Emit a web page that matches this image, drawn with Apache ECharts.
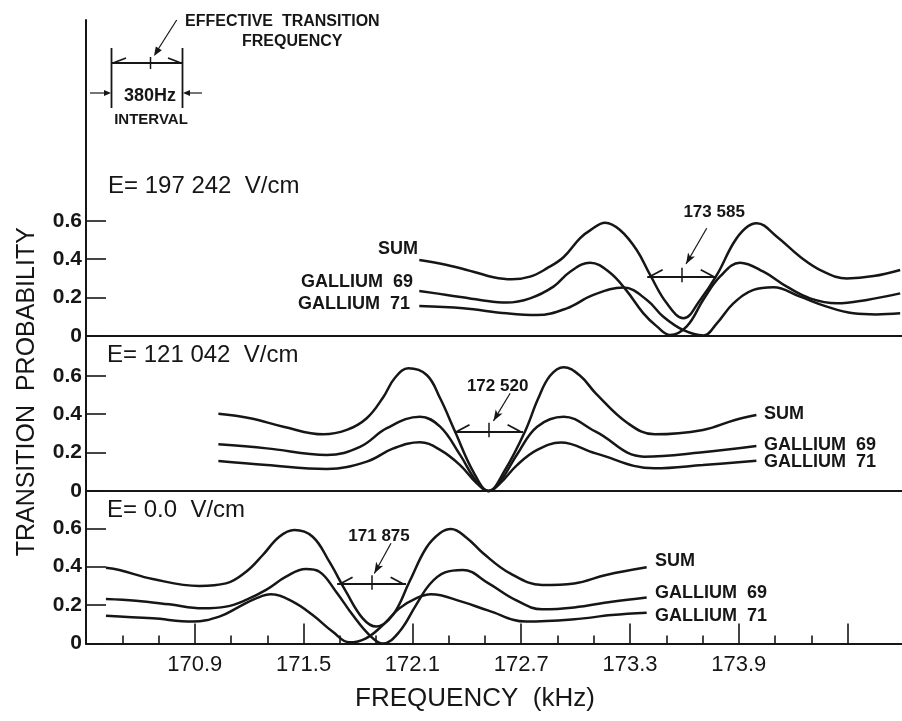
<!DOCTYPE html>
<html><head><meta charset="utf-8">
<script src="https://cdn.jsdelivr.net/npm/echarts@6/dist/echarts.min.js"></script>
<style>html,body{margin:0;padding:0;background:#fff}#c{width:902px;height:721px}</style>
</head><body><div id="c"></div>
<script>
// ---------------- data ----------------
const panelFields = ['E= 197 242  V/cm', 'E= 121 042  V/cm', 'E= 0.0  V/cm'];
const effectiveFreq = [173.585, 172.520, 171.875];   // kHz
const intervalKHz = 0.380;                           // 380 Hz
const curveNames = ['SUM', 'GALLIUM  69', 'GALLIUM  71'];
const xTickLabels = [170.9, 171.5, 172.1, 172.7, 173.3, 173.9];
const xMajorTicks = [170.9, 171.5, 172.1, 172.7, 173.3, 173.9, 174.5];
const xMinorTicks = [170.5, 170.7, 171.1, 171.3, 171.7, 171.9, 172.3, 172.5, 172.9, 173.1, 173.5, 173.7, 174.1, 174.3];

// E = 197 242 V/cm
const topSumF = [172.138,172.290,172.436,172.547,172.648,172.749,172.841,172.933,173.025,173.080,173.163,173.245,173.337,173.411,173.503,173.595,173.687,173.779,173.870,173.935,173.999,174.110,174.238,174.367,174.496,174.643,174.790];
const topSumP = [0.396,0.370,0.335,0.306,0.295,0.309,0.352,0.410,0.510,0.550,0.590,0.552,0.448,0.318,0.170,0.092,0.188,0.318,0.483,0.560,0.587,0.517,0.413,0.335,0.300,0.312,0.344];
const topGa69F = [172.138,172.290,172.473,172.620,172.749,172.878,172.970,173.080,173.190,173.282,173.374,173.448,173.521,173.613,173.705,173.797,173.907,174.036,174.165,174.293,174.441,174.606,174.790];
const topGa69P = [0.234,0.214,0.188,0.174,0.196,0.257,0.335,0.382,0.330,0.235,0.118,0.050,0.005,0.050,0.190,0.310,0.382,0.335,0.257,0.196,0.170,0.188,0.222];
const topGa71F = [172.138,172.381,172.620,172.786,172.951,173.098,173.264,173.393,173.484,173.595,173.705,173.779,173.870,173.981,174.091,174.238,174.385,174.532,174.657,174.790];
const topGa71P = [0.156,0.144,0.118,0.109,0.144,0.214,0.252,0.188,0.100,0.030,0.003,0.066,0.170,0.240,0.254,0.205,0.153,0.118,0.112,0.118];

// E = 121 042 V/cm
const midSumF = [171.030,171.205,171.388,171.609,171.738,171.848,171.940,172.004,172.078,172.179,172.253,172.335,172.436,172.520,172.611,172.721,172.793,172.859,172.934,173.025,173.111,173.288,173.436,173.702,173.879,173.997];
const midSumP = [0.402,0.379,0.335,0.295,0.318,0.379,0.490,0.590,0.639,0.604,0.483,0.310,0.100,0.000,0.110,0.310,0.480,0.600,0.645,0.600,0.509,0.353,0.295,0.318,0.370,0.396];
const midGa69F = [171.030,171.297,171.628,171.811,171.959,172.142,172.253,172.363,172.455,172.520,172.584,172.677,172.788,172.934,173.111,173.377,173.687,173.997];
const midGa69P = [0.243,0.222,0.188,0.230,0.327,0.387,0.335,0.188,0.048,0.000,0.050,0.190,0.335,0.387,0.309,0.179,0.200,0.234];
const midGa71F = [171.030,171.297,171.628,171.848,171.995,172.142,172.253,172.363,172.455,172.520,172.584,172.677,172.788,172.919,173.111,173.436,173.702,173.997];
const midGa71P = [0.156,0.135,0.115,0.153,0.222,0.254,0.214,0.135,0.040,0.000,0.040,0.135,0.214,0.252,0.196,0.118,0.135,0.158];

// E = 0.0 V/cm
const botSumF = [170.410,170.484,170.668,170.925,171.072,171.183,171.275,171.366,171.449,171.550,171.642,171.734,171.826,171.900,171.992,172.083,172.175,172.253,172.313,172.400,172.490,172.639,172.815,172.992,173.168,173.392];
const botSumP = [0.395,0.383,0.336,0.300,0.313,0.374,0.461,0.556,0.591,0.556,0.426,0.270,0.131,0.088,0.148,0.320,0.496,0.575,0.596,0.550,0.470,0.365,0.305,0.313,0.357,0.397];
const botGa69F = [170.410,170.576,170.759,170.944,171.072,171.183,171.293,171.403,171.513,171.587,171.679,171.771,171.863,171.937,172.028,172.120,172.197,172.280,172.378,172.520,172.668,172.815,172.992,173.200,173.392];
const botGa69P = [0.232,0.223,0.204,0.183,0.192,0.227,0.279,0.348,0.388,0.374,0.270,0.148,0.044,0.000,0.061,0.200,0.310,0.370,0.383,0.313,0.227,0.178,0.188,0.218,0.240];
const botGa71F = [170.410,170.668,170.889,171.035,171.146,171.238,171.320,171.440,171.550,171.661,171.752,171.844,171.937,172.028,172.120,172.203,172.372,172.520,172.727,172.993,173.200,173.392];
const botGa71P = [0.145,0.131,0.114,0.140,0.192,0.235,0.256,0.218,0.148,0.061,0.006,0.027,0.096,0.183,0.235,0.256,0.218,0.171,0.114,0.126,0.148,0.160];

// ---------------- layout / style ----------------
const INK = '#161616';
const FONT = '"Liberation Sans", Arial, sans-serif';
const X_MIN = 170.3, X_MAX = 174.8;
const PLOT_LEFT = 86, PLOT_W = 816;
const PX_PER_UNIT = 192;
const panelZeroY = [336, 491, 643.5];
const panelH = 0.6 * PX_PER_UNIT;

const panels = [
  [[topSumF, topSumP], [topGa69F, topGa69P], [topGa71F, topGa71P]],
  [[midSumF, midSumP], [midGa69F, midGa69P], [midGa71F, midGa71P]],
  [[botSumF, botSumP], [botGa69F, botGa69P], [botGa71F, botGa71P]]
];
// annotation geometry (offsets from effective frequency, in kHz / probability)
const annot = [
  {label: [0.179, 0.646], ptr: [[0.138, 0.561], [0.024, 0.375]]},
  {label: [0.050, 0.547], ptr: [[0.119, 0.509], [0.027, 0.365]]},
  {label: [0.041, 0.560], ptr: [[0.107, 0.522], [0.015, 0.365]]}
];
const LEVEL = 0.31;
const zip = (f, p) => f.map((v, i) => [v, p[i]]);
const fmtFreq = f => { const s = String(Math.round(f * 1000)); return s.slice(0, 3) + ' ' + s.slice(3); };

const grid = [], xAxis = [], yAxis = [], series = [];
panelZeroY.forEach((zy, i) => {
  grid.push({left: PLOT_LEFT, width: PLOT_W, top: zy - panelH, height: panelH});
  xAxis.push({
    type: 'value', gridIndex: i, min: X_MIN, max: X_MAX,
    axisLine: {show: true, onZero: false, lineStyle: {color: INK, width: 2}},
    axisTick: i === 2 ? {show: true, inside: true, length: 20, customValues: xMajorTicks, lineStyle: {color: INK, width: 1.6}} : {show: false},
    axisLabel: i === 2 ? {show: true, customValues: xTickLabels, formatter: v => v.toFixed(1), fontFamily: FONT, fontSize: 22, color: INK, margin: 10} : {show: false},
    splitLine: {show: false}
  });
  yAxis.push({
    type: 'value', gridIndex: i, min: 0, max: 0.6, interval: 0.2,
    axisLine: {show: true, lineStyle: {color: INK, width: 2}},
    axisTick: {show: true, inside: true, length: 20, lineStyle: {color: INK, width: 1.6}},
    axisLabel: {show: true, formatter: v => (v === 0 ? '0' : v.toFixed(1)), fontFamily: FONT, fontSize: 21, fontWeight: 'bold', color: INK, margin: 4},
    splitLine: {show: false}
  });
});
// frame grid: full-height y-axis line + minor x ticks
grid.push({left: PLOT_LEFT, width: PLOT_W, top: 20, height: panelZeroY[2] - 20});
xAxis.push({type: 'value', gridIndex: 3, min: X_MIN, max: X_MAX, axisLine: {show: false},
  axisTick: {show: true, inside: true, length: 8, customValues: xMinorTicks, lineStyle: {color: INK, width: 1.6}},
  axisLabel: {show: false}, splitLine: {show: false}});
yAxis.push({type: 'value', gridIndex: 3, min: 0, max: 1, axisLine: {show: true, lineStyle: {color: INK, width: 2}},
  axisTick: {show: false}, axisLabel: {show: false}, splitLine: {show: false}});
// name grid
grid.push({left: PLOT_LEFT, width: 778, top: 140, height: panelZeroY[2] - 140});
xAxis.push({type: 'value', gridIndex: 4, min: 0, max: 1, axisLine: {show: false}, axisTick: {show: false}, axisLabel: {show: false}, splitLine: {show: false},
  name: 'FREQUENCY  (kHz)', nameLocation: 'middle', nameGap: 42, nameTextStyle: {fontFamily: FONT, fontSize: 26, color: INK}});
yAxis.push({type: 'value', gridIndex: 4, min: 0, max: 1, axisLine: {show: false}, axisTick: {show: false}, axisLabel: {show: false}, splitLine: {show: false},
  name: 'TRANSITION  PROBABILITY', nameLocation: 'middle', nameGap: 46, nameRotate: 90, nameTextStyle: {fontFamily: FONT, fontSize: 25, color: INK}});

panels.forEach((curves, i) => {
  const c = effectiveFreq[i], h = intervalKHz / 2, a = annot[i];
  curves.forEach(([f, p], k) => {
    const s = {
      type: 'line', name: curveNames[k] + ' ' + i, xAxisIndex: i, yAxisIndex: i,
      data: zip(f, p), smooth: 0.4, symbol: 'none', clip: false, silent: true,
      lineStyle: {color: INK, width: 2.5}
    };
    if (k === 0) {
      const ls = w => ({color: INK, width: w, type: 'solid'});
      s.markLine = {
        silent: true, animation: false, symbol: ['none', 'none'], label: {show: false}, lineStyle: ls(2),
        data: [
          [{coord: [c - h, LEVEL]}, {coord: [c + h, LEVEL]}],
          [{coord: [c, LEVEL - 0.03], lineStyle: ls(1.5)}, {coord: [c, LEVEL + 0.045]}],
          [{coord: [c - h + 0.015, LEVEL], lineStyle: ls(1.8)}, {coord: [c - h + 0.085, LEVEL + 0.035]}],
          [{coord: [c + h - 0.015, LEVEL], lineStyle: ls(1.8)}, {coord: [c + h - 0.085, LEVEL + 0.035]}],
          [{coord: [c + a.ptr[0][0], a.ptr[0][1]], lineStyle: ls(1.2)},
           {coord: [c + a.ptr[1][0], a.ptr[1][1]], symbol: 'arrow', symbolSize: [6, 11]}]
        ]
      };
    }
    series.push(s);
  });
});

// ---------------- texts & key ----------------
const txt = (text, x, y, size, weight, align) => ({type: 'text', silent: true,
  style: {text, x, y, fontFamily: FONT, fontSize: size, fontWeight: weight || 'normal', fill: INK, align: align || 'left', verticalAlign: 'middle'}});
const ln = (x1, y1, x2, y2, w) => ({type: 'line', silent: true, shape: {x1, y1, x2, y2}, style: {stroke: INK, lineWidth: w || 2}});
const tri = pts => ({type: 'polygon', silent: true, shape: {points: pts}, style: {fill: INK}});

const graphic = [
  txt(panelFields[0], 108, 186, 24),
  txt(panelFields[1], 107, 355, 24),
  txt(panelFields[2], 107, 510, 24),
  txt(curveNames[0], 418, 249, 18, 'bold', 'right'),
  txt(curveNames[1], 413, 282, 18, 'bold', 'right'),
  txt(curveNames[2], 410, 304, 18, 'bold', 'right'),
  txt(curveNames[0], 764, 414, 18, 'bold'),
  txt(curveNames[1], 764, 445, 18, 'bold'),
  txt(curveNames[2], 764, 462, 18, 'bold'),
  txt(curveNames[0], 655, 561, 18, 'bold'),
  txt(curveNames[1], 655, 593, 18, 'bold'),
  txt(curveNames[2], 655, 616, 18, 'bold'),
  // key
  txt('EFFECTIVE  TRANSITION', 185, 22, 16, 'bold'),
  txt('FREQUENCY', 242, 42, 16, 'bold'),
  txt('380Hz', 150, 96, 18, 'bold', 'center'),
  txt('INTERVAL', 151, 120, 15, 'bold', 'center'),
  ln(111.5, 48, 111.5, 108, 1.8),
  ln(182.5, 48, 182.5, 108, 1.8),
  ln(111.5, 63, 182.5, 63, 2),
  ln(150.5, 57, 150.5, 69, 1.5),
  ln(113, 63, 126, 58, 1.8),
  ln(181, 63, 168, 58, 1.8),
  ln(176.7, 20, 157, 51, 1.2),
  tri([[154, 56], [161.8, 50.3], [155.8, 46.5]]),
  ln(90, 93, 104, 93, 1.2),
  tri([[111, 93], [104, 90], [104, 96]]),
  ln(202, 93, 190, 93, 1.2),
  tri([[183, 93], [190, 90], [190, 96]])
];

const chart = echarts.init(document.getElementById('c'), null, {renderer: 'canvas'});
chart.setOption({animation: false, backgroundColor: '#fff', grid, xAxis, yAxis, series, graphic});

// effective-frequency labels, positioned through each panel's own axes
effectiveFreq.forEach((c, i) => {
  const pt = chart.convertToPixel({xAxisIndex: i, yAxisIndex: i}, [c + annot[i].label[0], annot[i].label[1]]);
  graphic.push(txt(fmtFreq(c), pt[0], pt[1], 17, 'bold', 'center'));
});
chart.setOption({graphic});
</script></body></html>
